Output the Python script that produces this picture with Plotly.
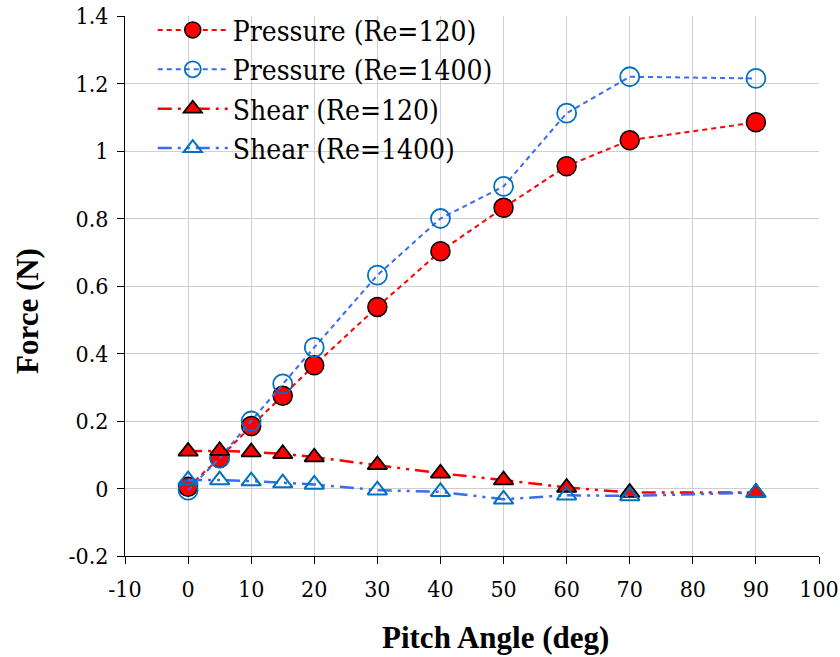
import plotly.graph_objects as go

angles = [0, 5, 10, 15, 20, 30, 40, 50, 60, 70, 90]
pressure_re120 = [0.005, 0.09, 0.185, 0.275, 0.365, 0.538, 0.703, 0.832, 0.955, 1.032, 1.085]
pressure_re1400 = [-0.005, 0.09, 0.2, 0.31, 0.418, 0.632, 0.8, 0.895, 1.112, 1.22, 1.215]
shear_re120 = [0.11, 0.112, 0.108, 0.103, 0.093, 0.07, 0.045, 0.025, 0.003, -0.012, -0.012]
shear_re1400 = [0.025, 0.025, 0.022, 0.016, 0.012, -0.005, -0.01, -0.032, -0.02, -0.022, -0.012]

x_ticks = [-10, 0, 10, 20, 30, 40, 50, 60, 70, 80, 90, 100]
x_ticklabels = ["-10", "0", "10", "20", "30", "40", "50", "60", "70", "80", "90", "100"]
y_ticks = [-0.2, 0, 0.2, 0.4, 0.6, 0.8, 1.0, 1.2, 1.4]
y_ticklabels = ["-0.2", "0", "0.2", "0.4", "0.6", "0.8", "1", "1.2", "1.4"]
x_title = "Pitch Angle (deg)"
y_title = "Force (N)"

RED = "#FF0000"
BLUE_LINE = "#3A6BF0"
BLUE_MK = "#0070C0"

fig = go.Figure()
fig.add_trace(go.Scatter(
    x=angles, y=pressure_re120, name="Pressure (Re=120)", mode="lines+markers",
    line=dict(color=RED, width=2, dash="5px,4px"),
    marker=dict(symbol="circle", size=19, color=RED, line=dict(color="black", width=1.5))))
fig.add_trace(go.Scatter(
    x=angles, y=pressure_re1400, name="Pressure (Re=1400)", mode="lines+markers",
    line=dict(color=BLUE_LINE, width=2, dash="5px,4px"),
    marker=dict(symbol="circle-open", size=19, color=BLUE_MK, line=dict(color=BLUE_MK, width=1.8))))
fig.add_trace(go.Scatter(
    x=angles, y=shear_re120, name="Shear (Re=120)", mode="lines+markers",
    line=dict(color=RED, width=2.5, dash="14px,6px,3px,6px,3px,6px"),
    marker=dict(symbol="triangle-up", size=17, color=RED, line=dict(color="black", width=1.8))))
fig.add_trace(go.Scatter(
    x=angles, y=shear_re1400, name="Shear (Re=1400)", mode="lines+markers",
    line=dict(color=BLUE_LINE, width=2.5, dash="14px,6px,3px,6px,3px,6px"),
    marker=dict(symbol="triangle-up-open", size=17, color=BLUE_MK, line=dict(color=BLUE_MK, width=2))))

REG = "DejaVu Serif Condensed"
BOLD = "Liberation Serif"
fig.update_layout(
    width=840, height=657,
    margin=dict(l=125, r=21, t=16, b=101, autoexpand=False),
    paper_bgcolor="white", plot_bgcolor="white",
    font=dict(family=REG, size=23, color="black"),
    showlegend=True,
    legend=dict(x=0.04, y=1.02, xanchor="left", yanchor="top",
                bgcolor="rgba(255,255,255,0)", font=dict(size=28, family=REG),
                itemwidth=70, tracegroupgap=0),
    xaxis=dict(range=[-10, 100], tickvals=x_ticks, ticktext=x_ticklabels, showgrid=True,
               gridcolor="#CFCFCF", gridwidth=1, showline=True, linecolor="black", linewidth=1,
               ticks="outside", ticklen=7, tickcolor="black", zeroline=False,
               ticklabelstandoff=5,
               tickfont=dict(size=23, family=REG)),
    yaxis=dict(range=[-0.2, 1.4], tickvals=y_ticks, ticktext=y_ticklabels, showgrid=True,
               gridcolor="#CFCFCF", gridwidth=1, showline=True, linecolor="black", linewidth=1,
               ticks="outside", ticklen=7, tickcolor="black", zeroline=False,
               ticklabelstandoff=4,
               tickfont=dict(size=23, family=REG)),
    annotations=[
        dict(text="<b>" + x_title + "</b>", xref="paper", yref="paper",
             x=(495 - 125) / 694, y=(556 - 637) / 540, xanchor="center", yanchor="middle",
             showarrow=False, font=dict(size=31, family=BOLD, color="black")),
        dict(text="<b>" + y_title + "</b>", xref="paper", yref="paper",
             x=(27 - 125) / 694, y=(556 - 311) / 540, xanchor="center", yanchor="middle",
             textangle=-90, showarrow=False, font=dict(size=31, family=BOLD, color="black")),
    ],
)

fig.write_html("out.html")
